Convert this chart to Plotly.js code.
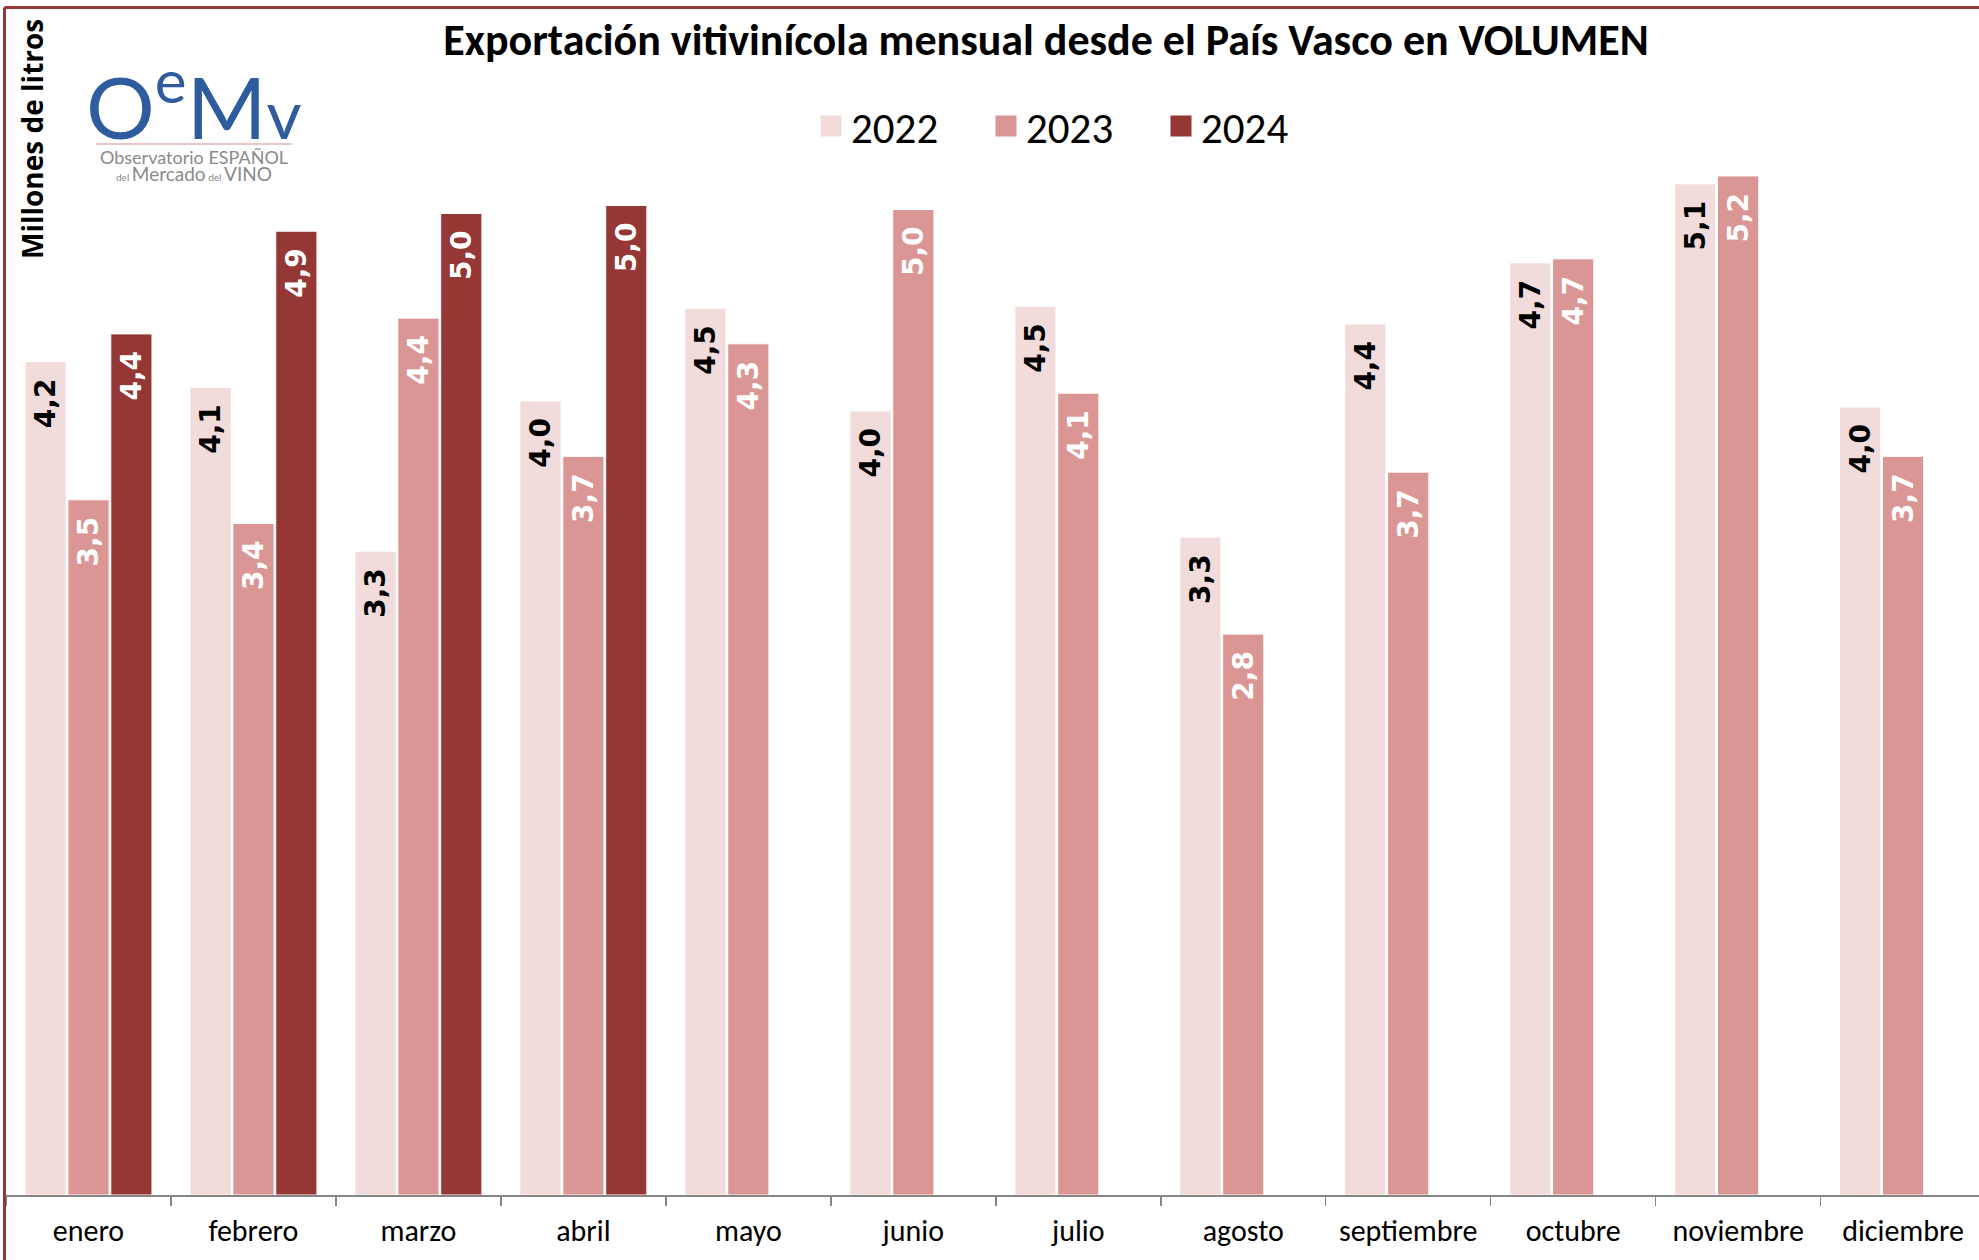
<!DOCTYPE html>
<html>
<head>
<meta charset="utf-8">
<script src="https://cdn.plot.ly/plotly-3.0.1.min.js"></script>
<style>
  html, body { margin: 0; padding: 0; background: #fff; overflow: hidden; }
  #chart { width: 1979px; height: 1260px; }
</style>
</head>
<body>
<div id="chart"></div>
<script>
// ---- Data (millones de litros) ----
const months = ["enero", "febrero", "marzo", "abril", "mayo", "junio", "julio",
                "agosto", "septiembre", "octubre", "noviembre", "diciembre"];
const years = ["2022", "2023", "2024"];
const vol2022 = [4.22, 4.09, 3.26, 4.02, 4.49, 3.97, 4.50, 3.33, 4.41, 4.72, 5.12, 3.99];
const vol2023 = [3.52, 3.40, 4.44, 3.74, 4.31, 4.99, 4.06, 2.84, 3.66, 4.74, 5.16, 3.74];
const vol2024 = [4.36, 4.88, 4.97, 5.01, null, null, null, null, null, null, null, null];

const titleText = "Exportación vitivinícola mensual desde el País Vasco en VOLUMEN";
const yTitleText = "Millones de litros";

// ---- Styling ----
const colors = ["#F2DCDB", "#DA9694", "#953735"];
const labelColors = ["#000000", "#FFFFFF", "#FFFFFF"];
const narrow = "Carlito, Liberation Sans Narrow, Liberation Sans, sans-serif";

// plot area in pixels
const W = 1979, H = 1260;
const L = 6, R = 0, T = 0, B = 65;
const plotW = W - L - R, plotH = H - T - B;
const px2x = p => (p - L) / plotW;
const py2y = p => (H - B - p) / plotH;
const pxPerUnit = 197.5;

function fmt(v) { return v == null ? null : v.toFixed(1).replace(".", ",") + "\u2002"; }

const series = [vol2022, vol2023, vol2024];
const barTraces = series.map((vals, i) => ({
  type: "bar",
  name: years[i],
  x: months,
  y: vals,
  text: vals.map(fmt),
  textposition: "inside",
  insidetextanchor: "end",
  textangle: -90,
  constraintext: "none",
  cliponaxis: false,
  textfont: { family: "DejaVu Sans", size: 28, weight: "bold", color: labelColors[i] },
  marker: { color: colors[i], line: { color: "#FFFFFF", width: 1 } },
  showlegend: false,
  legendgroup: years[i],
  hoverinfo: "skip"
}));

// legend-only entries (larger square swatches)
const legendTraces = years.map((yr, i) => ({
  type: "scatter",
  mode: "markers",
  name: yr,
  legendgroup: yr,
  x: [months[0]],
  y: [null],
  marker: { symbol: "square", size: 16, color: colors[i], line: { color: colors[i], width: 5 } },
  hoverinfo: "skip"
}));

const layout = {
  width: W, height: H,
  margin: { l: L, r: R, t: T, b: B, pad: 0 },
  paper_bgcolor: "#FFFFFF",
  plot_bgcolor: "#FFFFFF",
  barmode: "group",
  bargap: 0.22,
  bargroupgap: 0.04,
  showlegend: true,
  title: {
    text: "<b>" + titleText + "</b>",
    font: { family: narrow, size: 44, color: "#000000" },
    xref: "container", x: 1046 / W, xanchor: "center",
    yref: "container", y: 1 - 40 / H, yanchor: "middle"
  },
  legend: {
    orientation: "h",
    xref: "paper", x: px2x(811), xanchor: "left",
    yref: "paper", y: py2y(126), yanchor: "middle",
    font: { family: narrow, size: 43, color: "#000000" },
    entrywidth: 130,
    itemsizing: "trace",
    itemclick: false, itemdoubleclick: false,
    bgcolor: "rgba(0,0,0,0)"
  },
  xaxis: {
    type: "category",
    range: [-0.5, 11.46],
    showline: true, linecolor: "#868686", linewidth: 2,
    ticks: "outside", tickson: "boundaries", ticklen: 9, tickwidth: 1.5, tickcolor: "#868686",
    showgrid: false, zeroline: false,
    tickfont: { family: narrow, size: 30, color: "#000000" },
    ticklabelstandoff: 8,
    fixedrange: true
  },
  yaxis: {
    range: [0, plotH / pxPerUnit],
    showgrid: false, zeroline: false, showline: false,
    showticklabels: false, ticks: "",
    fixedrange: true
  },
  shapes: [
    // outer frame (top and left visible)
    { type: "line", xref: "paper", yref: "paper", x0: px2x(4.5), x1: px2x(4.5), y0: py2y(7.5), y1: py2y(1300),
      line: { color: "#953735", width: 3 } },
    { type: "line", xref: "paper", yref: "paper", x0: px2x(4.5), x1: px2x(2100), y0: py2y(7.5), y1: py2y(7.5),
      line: { color: "#953735", width: 3 } },
    // logo divider
    { type: "line", xref: "paper", yref: "paper", x0: px2x(96), x1: px2x(292), y0: py2y(144), y1: py2y(144),
      line: { color: "#D98C8C", width: 1 } }
  ],
  annotations: [
    { text: "<b>" + yTitleText + "</b>", textangle: -90, showarrow: false,
      xref: "paper", yref: "paper", x: px2x(32), y: py2y(139), xanchor: "center", yanchor: "middle",
      font: { family: "Open Sans, DejaVu Sans, sans-serif", size: 28, color: "#000000" } },
    { text: "O<sup>e</sup>M<span style='font-size:68px'>v</span>", showarrow: false,
      xref: "paper", yref: "paper", x: px2x(194), y: py2y(100), xanchor: "center", yanchor: "middle",
      font: { family: "Lato, Noto Sans, sans-serif", size: 86, color: "#2E5C9E" } },
    { text: "Observatorio ESPAÑOL", showarrow: false,
      xref: "paper", yref: "paper", x: px2x(194), y: py2y(157), xanchor: "center", yanchor: "middle",
      font: { family: "Lato, Noto Sans, sans-serif", size: 18, color: "#8A8A8A" } },
    { text: "<span style='font-size:10px'>del </span>Mercado<span style='font-size:10px'> del </span>VINO", showarrow: false,
      xref: "paper", yref: "paper", x: px2x(194), y: py2y(174), xanchor: "center", yanchor: "middle",
      font: { family: "Lato, Noto Sans, sans-serif", size: 19, color: "#8A8A8A" } }
  ]
};

Plotly.newPlot("chart", barTraces.concat(legendTraces), layout, { staticPlot: true, displayModeBar: false });
</script>
</body>
</html>
